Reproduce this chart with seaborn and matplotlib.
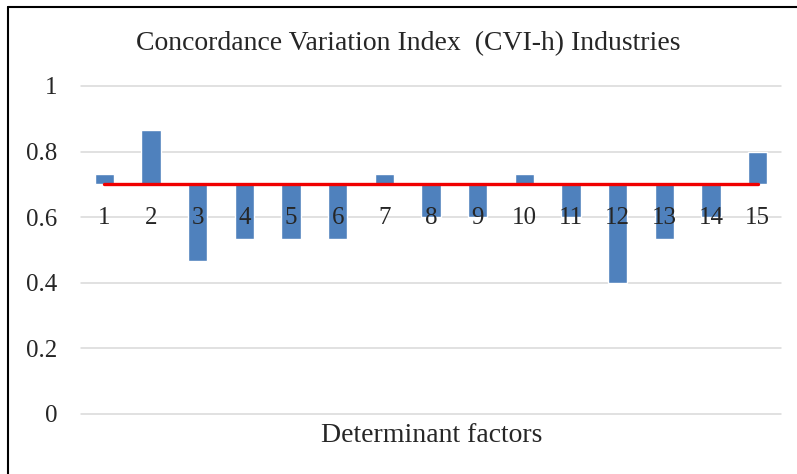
import matplotlib

matplotlib.use("Agg")

import matplotlib.pyplot as plt
import numpy as np
import pandas as pd
import seaborn as sns
from matplotlib.lines import Line2D

factors = [str(i) for i in range(1, 16)]
cvi_values = [0.733, 0.867, 0.467, 0.533, 0.533, 0.533, 0.733, 0.6, 0.6,
              0.733, 0.6, 0.4, 0.533, 0.6, 0.8]
threshold = 0.7
y_ticks = [0, 0.2, 0.4, 0.6, 0.8, 1]
y_tick_labels = ["0", "0.2", "0.4", "0.6", "0.8", "1"]

df = pd.DataFrame({"factor": factors, "cvi": cvi_values})
df["delta"] = df["cvi"] - threshold
df["pos"] = np.arange(len(df))

sns.set_theme(style="white")
plt.rcParams["font.family"] = ["Liberation Serif", "DejaVu Serif"]

fig = plt.figure(figsize=(7.97, 4.74), dpi=100)
ax = fig.add_axes([81 / 797, 1 - 414 / 474, 700 / 797, 328 / 474])

sns.barplot(data=df, x="factor", y="delta", bottom=threshold, color="#4F81BD",
            saturation=1, width=0.41, ax=ax, zorder=2)
sns.lineplot(x=df["pos"], y=[threshold] * len(df), color="#F00000",
             linewidth=2.4, ax=ax, zorder=3)

ax.set_ylim(0, 1)
ax.set_xlim(-0.5, len(df) - 0.5)
ax.set_yticks(y_ticks)
ax.set_yticklabels(y_tick_labels, fontsize=18)
ax.tick_params(axis="y", length=0, pad=17)
ax.set_xticks([])
ax.set_xlabel("")
ax.set_ylabel("")
for y in y_ticks:
    ax.axhline(y, color="#D9D9D9", linewidth=1.1, zorder=0, clip_on=False)
for spine in ax.spines.values():
    spine.set_visible(False)

for pos, label in zip(df["pos"], df["factor"]):
    ax.annotate(label, (pos, threshold), xytext=(0, -24), textcoords="offset points",
                ha="center", va="center", fontsize=18, zorder=4)

fig.text(408 / 797, 1 - 44 / 474, "Concordance Variation Index  (CVI-h) Industries",
         ha="center", va="center", fontsize=20)
fig.text(432 / 797, 1 - 435 / 474, "Determinant factors",
         ha="center", va="center", fontsize=20)

fig.add_artist(Line2D([8 / 797, 8 / 797], [0, 1 - 6.5 / 474], color="black",
                      linewidth=1.5, transform=fig.transFigure))
fig.add_artist(Line2D([8 / 797, 1], [1 - 6.5 / 474, 1 - 6.5 / 474], color="black",
                      linewidth=1.5, transform=fig.transFigure))

fig.savefig("out.png", dpi=100)
plt.close(fig)
